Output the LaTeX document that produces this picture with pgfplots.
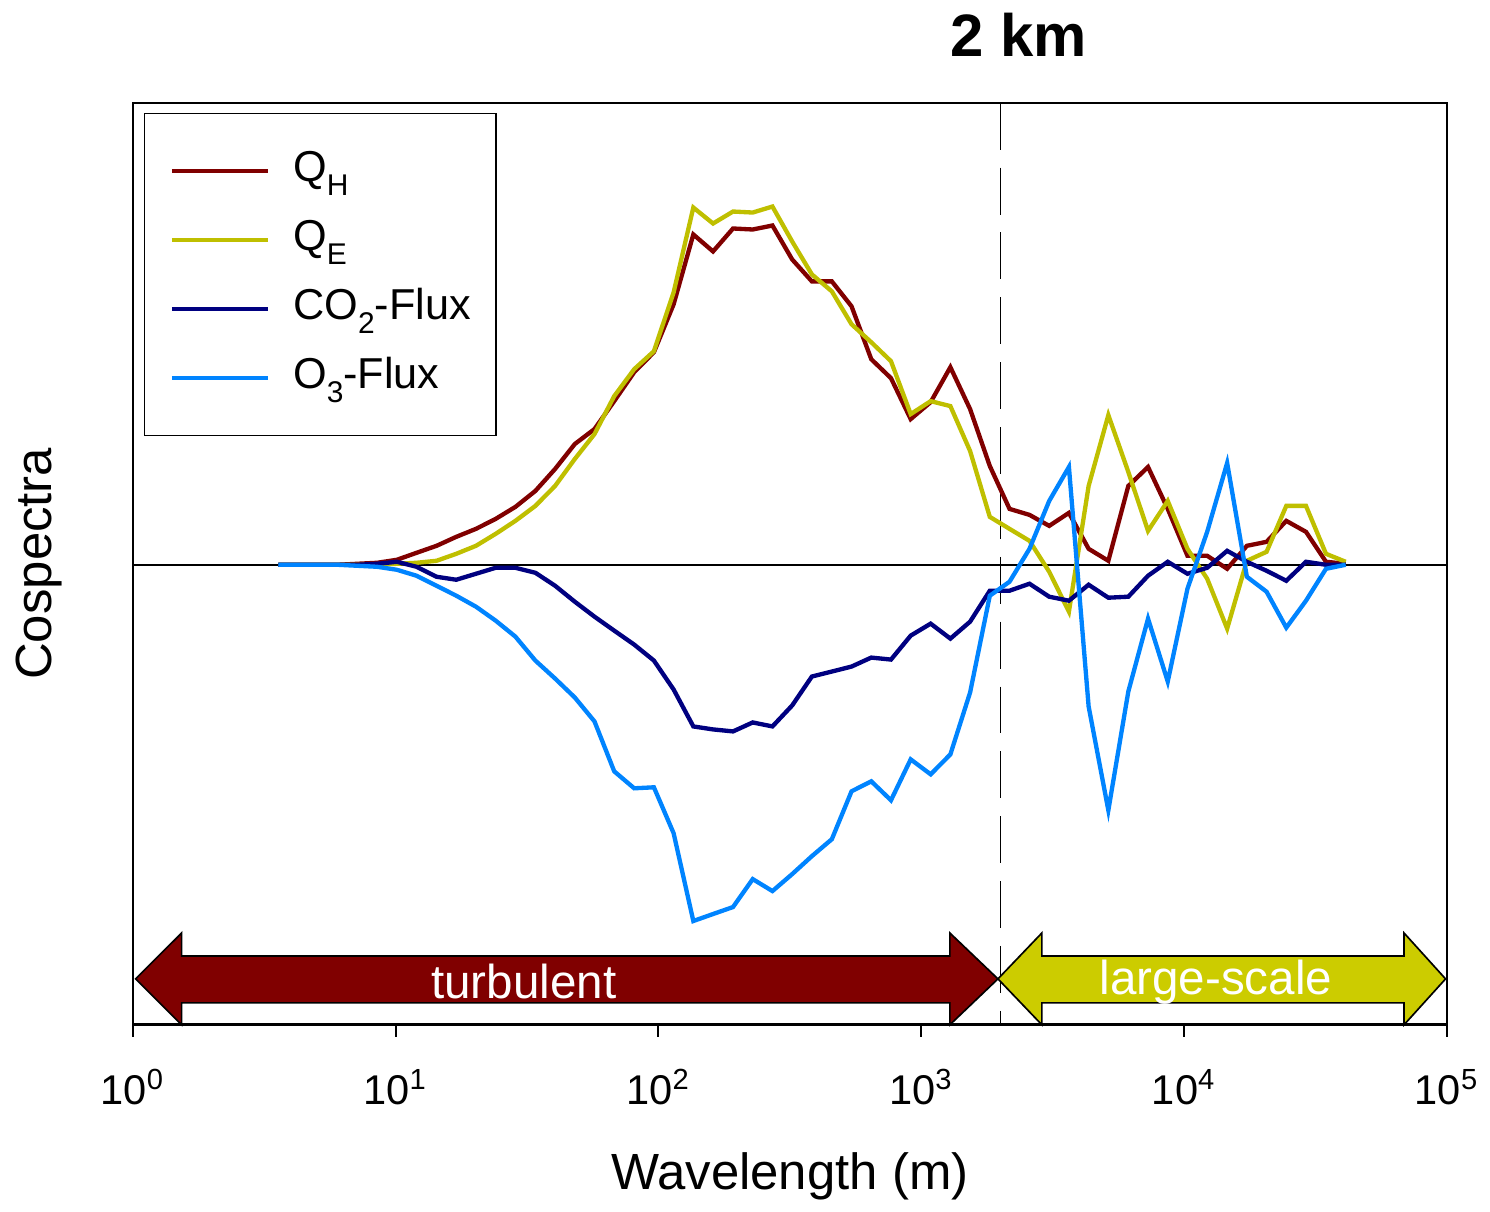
\documentclass[border=0pt]{standalone}
\usepackage{fontspec}
\setmainfont{Liberation Sans}
\usepackage{pgfplots}
\usepackage{pgfplotstable}
\pgfplotsset{compat=1.18}
\definecolor{qh}{HTML}{800000}
\definecolor{qe}{HTML}{BFBF00}
\definecolor{cot}{HTML}{000080}
\definecolor{ozone}{HTML}{0084FF}
\definecolor{arrowy}{HTML}{CCCC00}
\newcommand{\lsub}[1]{\raisebox{-4.2pt}{\fontsize{9}{10}\selectfont #1}}
\pgfplotstableread{
lx qh qe co2 o3
0.554 0 0 0 0
0.629 0 0 0 0
0.704 0 0 0 0
0.780 0 0 0 0
0.855 1 0 0 -1
0.930 2 0 1 -2
1.005 5 1 3 -5
1.080 12 2 -2 -11
1.156 19 4 -12 -21
1.231 28 11 -15 -31
1.306 36 19 -9 -42
1.381 46 31 -3 -56
1.456 58 44 -3 -72
1.532 74 59 -8 -96
1.607 96 79 -21 -114
1.682 121 106 -37 -133
1.757 136 131 -52 -157
1.832 164 169 -66 -207
1.908 193 196 -80 -224
1.983 213 214 -96 -223
2.058 261 273 -125 -269
2.133 331 358 -162 -357
2.208 314 342 -165 -350
2.284 337 354 -167 -343
2.359 336 353 -158 -315
2.434 340 359 -162 -327
2.509 306 324 -141 -310
2.584 284 291 -112 -292
2.660 284 274 -107 -275
2.735 259 241 -102 -227
2.810 206 223 -93 -217
2.885 187 204 -95 -236
2.960 146 151 -71 -195
3.036 163 164 -59 -210
3.111 198 159 -74 -190
3.186 156 114 -57 -128
3.261 99 48 -26 -31
3.336 56 36 -26 -17
3.412 50 24 -19 16
3.487 39 -7 -32 64
3.562 52 -47 -36 98
3.637 16 79 -20 -142
3.712 4 150 -33 -246
3.788 79 93 -32 -127
3.863 98 34 -11 -54
3.938 56 64 3 -117
4.013 9 16 -9 -24
4.088 9 -14 -3 33
4.164 -4 -64 14 102
4.239 19 4 3 -12
4.314 23 13 -6 -27
4.389 44 59 -16 -63
4.464 33 59 3 -36
4.540 3 11 0 -4
4.615 1 3 0 0
}\datatable
\begin{document}
\begin{tikzpicture}
\begin{axis}[
  name=ax,
  scale only axis,
  width=395.1pt, height=277.2pt,
  xmin=0, xmax=5, ymin=-461, ymax=463,
  clip=false,
  axis line style={line width=0.6pt},
  xtick={0,1,2,3,4,5},
  xticklabels={10\textsuperscript{0},10\textsuperscript{1},10\textsuperscript{2},10\textsuperscript{3},10\textsuperscript{4},10\textsuperscript{5}},
  xtick pos=left,
  tick align=outside,
  major tick length=3.6pt,
  every tick/.style={black, line width=0.6pt},
  ytick=\empty,
  xticklabel style={font=\fontsize{12.5}{14}\selectfont, anchor=base, yshift=-20.3pt},
  xlabel={Wavelength (m)},
  ylabel={Cospectra},
  xlabel style={font=\fontsize{15.3}{18}\selectfont, at={(rel axis cs:0.5,0)}, anchor=base, yshift=-49.5pt},
  ylabel style={font=\fontsize{15.3}{18}\selectfont, at={(rel axis cs:0,0.5)}, anchor=center, yshift=28.2pt},
  legend image code/.code={\draw[#1] (0pt,0pt) -- (28.8pt,0pt);},
  legend cell align=left,
  legend style={at={(rel axis cs:0.00835,0.9892)}, anchor=north west,
    draw=black, line width=0.5pt, font=\fontsize{13}{15}\selectfont,
    inner xsep=7.6pt, inner ysep=10pt, row sep=6.4pt, column sep=7pt,
    nodes={inner sep=0pt, text height=10.4pt, text depth=4pt}},
]
\draw[black, line width=0.45pt] (axis cs:0,0) -- (axis cs:5,0);
\draw[black, line width=0.45pt, dash pattern=on 14.1pt off 5.4pt] (axis cs:3.301,463) -- (axis cs:3.301,-461);
\addplot[qh, line width=1.3pt] table[x=lx, y=qh] {\datatable};
\addlegendentry{Q\lsub{H}}
\addplot[qe, line width=1.3pt] table[x=lx, y=qe] {\datatable};
\addlegendentry{Q\lsub{E}}
\addplot[cot, line width=1.3pt] table[x=lx, y=co2] {\datatable};
\addlegendentry{CO\lsub{2}-Flux}
\addplot[ozone, line width=1.3pt] table[x=lx, y=o3] {\datatable};
\addlegendentry{O\lsub{3}-Flux}
% arrows
\filldraw[fill=qh, draw=black, line width=0.5pt]
  (axis cs:0.011,-415) -- (axis cs:0.186,-369) -- (axis cs:0.186,-392) -- (axis cs:3.109,-392)
  -- (axis cs:3.109,-369) -- (axis cs:3.292,-415) -- (axis cs:3.109,-461) -- (axis cs:3.109,-439)
  -- (axis cs:0.186,-439) -- (axis cs:0.186,-461) -- cycle;
\filldraw[fill=arrowy, draw=black, line width=0.5pt]
  (axis cs:3.292,-415) -- (axis cs:3.459,-369) -- (axis cs:3.459,-392) -- (axis cs:4.837,-392)
  -- (axis cs:4.837,-369) -- (axis cs:4.995,-415) -- (axis cs:4.837,-461) -- (axis cs:4.837,-439)
  -- (axis cs:3.459,-439) -- (axis cs:3.459,-461) -- cycle;
\node[white, font=\fontsize{14.3}{16}\selectfont] at (axis cs:1.488,-418) {turbulent};
\node[white, font=\fontsize{14.3}{16}\selectfont] at (axis cs:4.121,-418) {large-scale};
\node[font=\bfseries\fontsize{18}{20}\selectfont, anchor=base] at (axis cs:3.371,463) [yshift=14pt] {2 km};
\draw[black, line width=0.9pt] (axis cs:0,-461) -- (axis cs:5,-461);
\end{axis}
\path[use as bounding box] ([xshift=-39.9pt,yshift=-52.8pt]ax.south west) rectangle ([xshift=12pt,yshift=30.9pt]ax.north east);
\end{tikzpicture}
\end{document}
